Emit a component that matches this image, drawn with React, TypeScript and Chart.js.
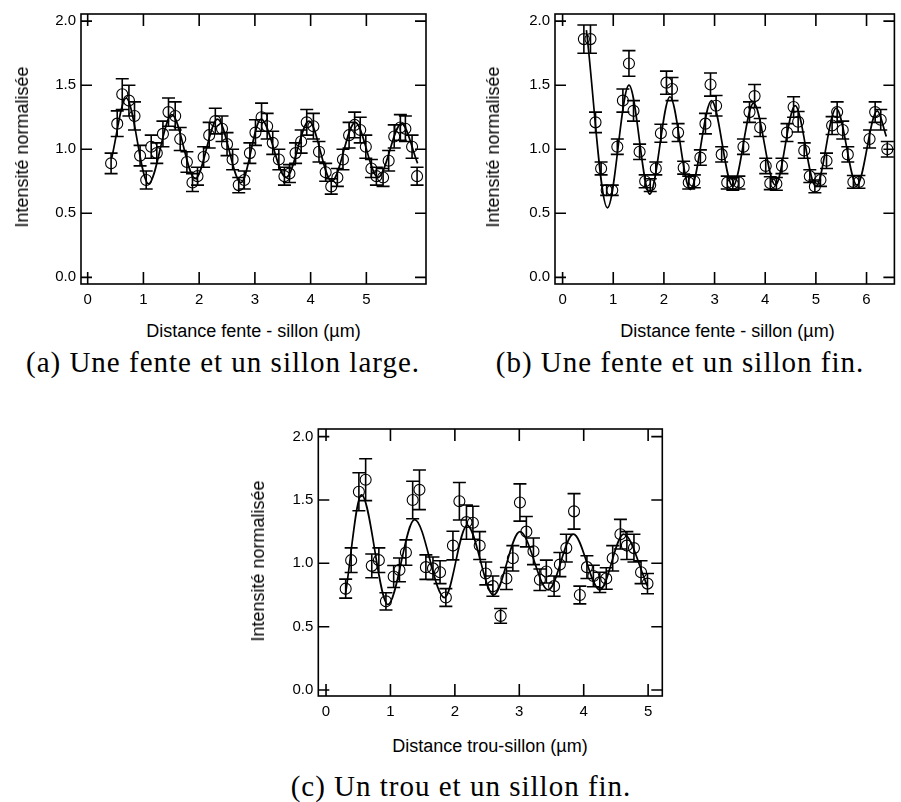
import React, { useEffect, useRef } from "react";
import { Chart, registerables } from "chart.js";

Chart.register(...registerables);

// ---------- shared ----------
const yTickValues = [0, 0.5, 1.0, 1.5, 2.0];
const yAxisTitle = "Intensité normalisée";

// ---------- (a) Une fente et un sillon large ----------
const aTitle = "Distance fente - sillon (µm)";
const aCaption = "(a) Une fente et un sillon large.";
const aTickValues = [0, 1, 2, 3, 4, 5];
const aX = [0.42, 0.53, 0.62, 0.74, 0.84, 0.94, 1.05, 1.14, 1.24, 1.35, 1.45, 1.57, 1.66, 1.78, 1.88, 1.97, 2.08, 2.18, 2.29, 2.41, 2.5, 2.6, 2.71, 2.81, 2.91, 3.01, 3.12, 3.22, 3.32, 3.43, 3.53, 3.62, 3.73, 3.83, 3.93, 4.05, 4.15, 4.27, 4.37, 4.48, 4.58, 4.69, 4.79, 4.89, 4.99, 5.09, 5.18, 5.3, 5.4, 5.5, 5.61, 5.7, 5.82, 5.91];
const aY = [0.89, 1.2, 1.43, 1.38, 1.26, 0.95, 0.76, 1.02, 0.97, 1.12, 1.29, 1.26, 1.08, 0.9, 0.74, 0.79, 0.94, 1.11, 1.22, 1.16, 1.04, 0.92, 0.72, 0.76, 0.97, 1.13, 1.25, 1.18, 1.05, 0.92, 0.79, 0.81, 0.97, 1.06, 1.21, 1.18, 0.98, 0.82, 0.71, 0.78, 0.92, 1.11, 1.19, 1.15, 1.02, 0.85, 0.79, 0.78, 0.91, 1.1, 1.17, 1.16, 1.02, 0.79];
const aErr = [0.08, 0.1, 0.12, 0.12, 0.11, 0.08, 0.07, 0.09, 0.08, 0.1, 0.11, 0.11, 0.09, 0.08, 0.07, 0.07, 0.08, 0.1, 0.1, 0.1, 0.09, 0.08, 0.06, 0.07, 0.08, 0.1, 0.11, 0.1, 0.09, 0.08, 0.07, 0.07, 0.08, 0.09, 0.1, 0.1, 0.08, 0.07, 0.06, 0.07, 0.08, 0.1, 0.1, 0.1, 0.09, 0.07, 0.07, 0.07, 0.08, 0.09, 0.1, 0.1, 0.09, 0.07];
const aFitX = [0.43, 0.69, 1.09, 1.51, 1.93, 2.33, 2.75, 3.11, 3.56, 3.97, 4.38, 4.8, 5.21, 5.63, 5.92];
const aFitY = [0.93, 1.4, 0.73, 1.27, 0.77, 1.235, 0.74, 1.235, 0.78, 1.22, 0.75, 1.21, 0.78, 1.2, 0.89];

// ---------- (b) Une fente et un sillon fin ----------
const bTitle = "Distance fente - sillon (µm)";
const bCaption = "(b) Une fente et un sillon fin.";
const bTickValues = [0, 1, 2, 3, 4, 5, 6];
const bX = [0.42, 0.55, 0.65, 0.76, 0.87, 0.98, 1.08, 1.19, 1.31, 1.4, 1.52, 1.63, 1.73, 1.84, 1.94, 2.05, 2.16, 2.28, 2.39, 2.49, 2.6, 2.72, 2.82, 2.92, 3.03, 3.14, 3.25, 3.36, 3.48, 3.57, 3.69, 3.79, 3.9, 4.01, 4.1, 4.22, 4.33, 4.43, 4.56, 4.65, 4.77, 4.88, 4.98, 5.09, 5.21, 5.32, 5.42, 5.53, 5.63, 5.74, 5.85, 6.06, 6.17, 6.28, 6.41];
const bY = [1.86, 1.86, 1.21, 0.85, 0.68, 0.68, 1.02, 1.38, 1.67, 1.3, 0.98, 0.75, 0.72, 0.85, 1.125, 1.52, 1.47, 1.13, 0.856, 0.74, 0.75, 0.935, 1.2, 1.505, 1.34, 0.96, 0.74, 0.73, 0.74, 1.02, 1.29, 1.415, 1.17, 0.87, 0.735, 0.73, 0.87, 1.13, 1.33, 1.215, 0.99, 0.79, 0.71, 0.76, 0.91, 1.185, 1.29, 1.15, 0.96, 0.745, 0.745, 1.08, 1.29, 1.23, 1.0];
const bErr = [0.11, 0.11, 0.08, 0.05, 0.04, 0.04, 0.06, 0.09, 0.1, 0.08, 0.06, 0.05, 0.05, 0.05, 0.07, 0.09, 0.09, 0.07, 0.05, 0.05, 0.05, 0.06, 0.08, 0.09, 0.08, 0.06, 0.05, 0.05, 0.05, 0.06, 0.08, 0.09, 0.07, 0.06, 0.05, 0.05, 0.06, 0.07, 0.08, 0.08, 0.06, 0.05, 0.05, 0.05, 0.06, 0.07, 0.08, 0.07, 0.06, 0.05, 0.05, 0.07, 0.08, 0.08, 0.06];
const bFitX = [0.47, 0.885, 1.31, 1.72, 2.12, 2.52, 2.94, 3.36, 3.77, 4.2, 4.59, 5.0, 5.4, 5.81, 6.21, 6.39];
const bFitY = [1.93, 0.543, 1.5, 0.65, 1.41, 0.685, 1.38, 0.71, 1.36, 0.72, 1.34, 0.71, 1.32, 0.72, 1.3, 1.1];

// ---------- (c) Un trou et un sillon fin ----------
const cTitle = "Distance trou-sillon (µm)";
const cCaption = "(c) Un trou et un sillon fin.";
const cTickValues = [0, 1, 2, 3, 4, 5];
const cX = [0.305, 0.39, 0.51, 0.615, 0.71, 0.82, 0.93, 1.05, 1.14, 1.24, 1.345, 1.45, 1.55, 1.66, 1.77, 1.86, 1.97, 2.07, 2.18, 2.28, 2.385, 2.48, 2.59, 2.71, 2.8, 2.9, 3.01, 3.11, 3.22, 3.32, 3.42, 3.54, 3.63, 3.73, 3.85, 3.94, 4.05, 4.15, 4.25, 4.35, 4.45, 4.57, 4.67, 4.78, 4.89, 4.99];
const cY = [0.8, 1.025, 1.565, 1.66, 0.98, 1.025, 0.7, 0.896, 0.948, 1.085, 1.5, 1.58, 0.97, 0.96, 0.93, 0.73, 1.14, 1.49, 1.325, 1.32, 1.14, 0.92, 0.82, 0.585, 0.88, 1.04, 1.48, 1.25, 1.095, 0.87, 0.935, 0.82, 0.99, 1.12, 1.41, 0.75, 0.97, 0.9, 0.85, 0.88, 1.04, 1.23, 1.14, 1.12, 0.93, 0.84];
const cErr = [0.075, 0.097, 0.15, 0.165, 0.094, 0.097, 0.068, 0.087, 0.094, 0.1, 0.148, 0.156, 0.097, 0.09, 0.09, 0.07, 0.113, 0.148, 0.135, 0.13, 0.11, 0.09, 0.08, 0.058, 0.087, 0.1, 0.147, 0.12, 0.105, 0.085, 0.09, 0.08, 0.095, 0.11, 0.14, 0.07, 0.09, 0.085, 0.08, 0.085, 0.1, 0.117, 0.11, 0.11, 0.09, 0.08];
const cFitX = [0.3, 0.55, 0.96, 1.375, 1.84, 2.19, 2.6, 3.01, 3.45, 3.84, 4.25, 4.62, 4.99];
const cFitY = [0.75, 1.54, 0.675, 1.345, 0.73, 1.3, 0.75, 1.25, 0.79, 1.23, 0.79, 1.23, 0.82];

const SANS = "'Liberation Sans', Arial, Helvetica, sans-serif";
const SERIF = "'Liberation Serif', 'Times New Roman', serif";

const framePlugin = {
  id: "frameTicks",
  afterDraw(chart: any) {
    const { ctx, chartArea: a, scales } = chart;
    const xs = scales.x;
    const ys = scales.y;
    ctx.save();
    ctx.strokeStyle = "#000";
    ctx.lineWidth = 1.6;
    ctx.strokeRect(a.left, a.top, a.right - a.left, a.bottom - a.top);
    ctx.beginPath();
    for (const t of xs.ticks) {
      const px = xs.getPixelForValue(t.value);
      ctx.moveTo(px, a.bottom);
      ctx.lineTo(px, a.bottom - 12);
      ctx.moveTo(px, a.top);
      ctx.lineTo(px, a.top + 12);
    }
    for (const t of ys.ticks) {
      const py = ys.getPixelForValue(t.value);
      ctx.moveTo(a.left, py);
      ctx.lineTo(a.left + 11, py);
      ctx.moveTo(a.right, py);
      ctx.lineTo(a.right - 11, py);
    }
    ctx.stroke();
    ctx.restore();
  },
};

const errorBarPlugin = {
  id: "errorBars",
  afterDatasetsDraw(chart: any) {
    const { ctx, scales } = chart;
    chart.data.datasets.forEach((ds: any) => {
      if (!ds.errs) return;
      ctx.save();
      ctx.strokeStyle = "#000";
      ctx.lineWidth = 1.6;
      ctx.beginPath();
      ds.data.forEach((p: any, i: number) => {
        const e = ds.errs[i];
        const px = scales.x.getPixelForValue(p.x);
        const yt = scales.y.getPixelForValue(p.y + e);
        const yb = scales.y.getPixelForValue(p.y - e);
        ctx.moveTo(px, yt);
        ctx.lineTo(px, yb);
        ctx.moveTo(px - 6.5, yt);
        ctx.lineTo(px + 6.5, yt);
        ctx.moveTo(px - 6.5, yb);
        ctx.lineTo(px + 6.5, yb);
      });
      ctx.stroke();
      ctx.restore();
    });
  },
};

type PanelProps = {
  left: number;
  top: number;
  width: number;
  height: number;
  area: { left: number; top: number; right: number; bottom: number };
  xMin: number;
  xMax: number;
  yMin: number;
  yMax: number;
  xTicks: number[];
  xs: number[];
  ys: number[];
  errs: number[];
  fitX: number[];
  fitY: number[];
};

function Panel(p: PanelProps) {
  const ref = useRef<HTMLCanvasElement>(null);
  useEffect(() => {
    const chart = new Chart(ref.current as HTMLCanvasElement, {
      type: "scatter",
      data: {
        datasets: [
          {
            type: "line",
            data: p.fitX.map((x, i) => ({ x, y: p.fitY[i] })),
            borderColor: "#000",
            borderWidth: 1.7,
            pointRadius: 0,
            cubicInterpolationMode: "monotone",
            fill: false,
          } as any,
          {
            data: p.xs.map((x, i) => ({ x, y: p.ys[i] })),
            errs: p.errs,
            showLine: false,
            pointRadius: 5.5,
            pointHoverRadius: 5.5,
            pointBorderWidth: 1.1,
            borderColor: "#000",
            backgroundColor: "rgba(0,0,0,0)",
          } as any,
        ],
      },
      options: {
        responsive: false,
        animation: false,
        events: [],
        layout: {
          padding: { left: 0, top: p.area.top, right: p.width - p.area.right, bottom: 0 },
        },
        plugins: { legend: { display: false }, tooltip: { enabled: false } },
        scales: {
          x: {
            type: "linear",
            min: p.xMin,
            max: p.xMax,
            afterBuildTicks: (s: any) => {
              s.ticks = p.xTicks.map((v) => ({ value: v }));
            },
            afterFit: (s: any) => {
              s.height = p.height - p.area.bottom;
            },
            grid: { display: false, drawTicks: false },
            border: { display: false },
            ticks: {
              padding: 7,
              color: "#000",
              autoSkip: false,
              maxRotation: 0,
              font: { family: SANS, size: 15 },
              callback: (v: any) => String(v),
            },
          },
          y: {
            type: "linear",
            min: p.yMin,
            max: p.yMax,
            afterBuildTicks: (s: any) => {
              s.ticks = yTickValues.map((v) => ({ value: v }));
            },
            afterFit: (s: any) => {
              s.width = p.area.left;
            },
            grid: { display: false, drawTicks: false },
            border: { display: false },
            ticks: {
              padding: 5,
              color: "#000",
              autoSkip: false,
              font: { family: SANS, size: 15 },
              callback: (v: any) => Number(v).toFixed(1),
            },
          },
        },
      } as any,
      plugins: [errorBarPlugin, framePlugin],
    });
    return () => chart.destroy();
  }, []);
  return (
    <canvas
      ref={ref}
      width={p.width}
      height={p.height}
      style={{ position: "absolute", left: p.left, top: p.top, width: p.width, height: p.height }}
    />
  );
}

function Label({ text, cx, cy, rotate, size, family }: { text: string; cx: number; cy: number; rotate?: boolean; size: number; family: string }) {
  return (
    <div
      style={{
        position: "absolute",
        left: cx,
        top: cy,
        transform: `translate(-50%, -50%)${rotate ? " rotate(-90deg)" : ""}`,
        whiteSpace: "nowrap",
        fontFamily: family,
        fontSize: size,
        lineHeight: `${size}px`,
        color: "#000",
      }}
    >
      {text}
    </div>
  );
}

function Caption({ text, cx, cy }: { text: string; cx: number; cy: number }) {
  return (
    <div
      style={{
        position: "absolute",
        left: cx,
        top: cy,
        transform: "translate(-50%, -50%)",
        whiteSpace: "nowrap",
        fontFamily: SERIF,
        fontSize: 29,
        letterSpacing: "1px",
        lineHeight: "29px",
        color: "#000",
      }}
    >
      {text}
    </div>
  );
}

export default function App() {
  return (
    <div
      style={{
        position: "fixed",
        left: 0,
        top: 0,
        width: 901,
        height: 802,
        background: "#fff",
        overflow: "hidden",
      }}
    >
      <Panel
        left={0}
        top={0}
        width={450}
        height={312}
        area={{ left: 81, top: 10, right: 426, bottom: 284 }}
        xMin={-0.12}
        xMax={6.07}
        yMin={-0.052}
        yMax={2.056}
        xTicks={aTickValues}
        xs={aX}
        ys={aY}
        errs={aErr}
        fitX={aFitX}
        fitY={aFitY}
      />
      <Panel
        left={470}
        top={0}
        width={431}
        height={312}
        area={{ left: 85, top: 10, right: 430, bottom: 284 }}
        xMin={-0.15}
        xMax={6.55}
        yMin={-0.052}
        yMax={2.056}
        xTicks={bTickValues}
        xs={bX}
        ys={bY}
        errs={bErr}
        fitX={bFitX}
        fitY={bFitY}
      />
      <Panel
        left={240}
        top={415}
        width={440}
        height={312}
        area={{ left: 78.3, top: 10.7, right: 422.3, bottom: 281 }}
        xMin={-0.12}
        xMax={5.22}
        yMin={-0.047}
        yMax={2.06}
        xTicks={cTickValues}
        xs={cX}
        ys={cY}
        errs={cErr}
        fitX={cFitX}
        fitY={cFitY}
      />
      <Label text={yAxisTitle} cx={22} cy={147} rotate size={18} family={SANS} />
      <Label text={yAxisTitle} cx={493} cy={147} rotate size={18} family={SANS} />
      <Label text={yAxisTitle} cx={258} cy={561} rotate size={18} family={SANS} />
      <Label text={aTitle} cx={253.5} cy={331} size={18} family={SANS} />
      <Label text={bTitle} cx={727.5} cy={331} size={18} family={SANS} />
      <Label text={cTitle} cx={490} cy={746} size={18} family={SANS} />
      <Caption text={aCaption} cx={223} cy={362} />
      <Caption text={bCaption} cx={680} cy={362} />
      <Caption text={cCaption} cx={461} cy={786} />
    </div>
  );
}
